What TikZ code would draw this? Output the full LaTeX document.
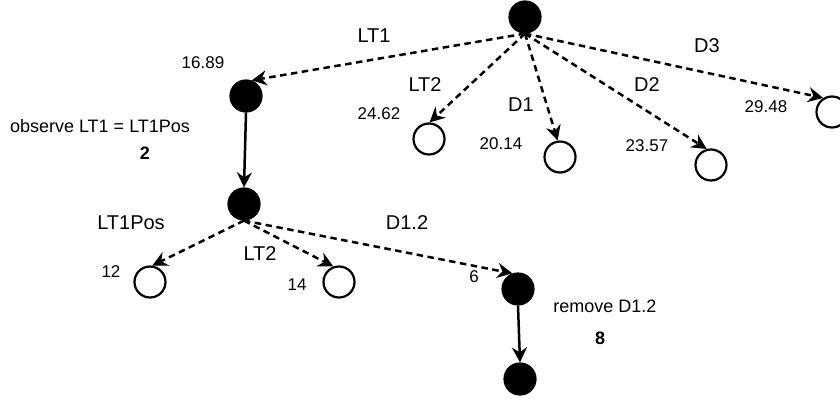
\documentclass[tikz,border=0pt]{standalone}
\usepackage{fontspec}
\setmainfont{Liberation Sans}
\usetikzlibrary{arrows.meta}
\tikzset{
  full/.style={circle, fill=black, draw=black, line width=2.2pt, minimum size=31pt, inner sep=0pt},
  empty/.style={circle, fill=white, draw=black, line width=2.2pt, minimum size=31pt, inner sep=0pt},
  tipstyle/.style={-{Stealth[length=15pt,width=15pt,inset=5pt]}},
  dashedge/.style={line width=2.5pt, dash pattern=on 6.5pt off 4.5pt, tipstyle},
  solidedge/.style={line width=2.5pt, tipstyle},
  elabel/.style={inner sep=0pt, font=\fontsize{20}{22}\selectfont},
  nlabel/.style={inner sep=0pt, font=\fontsize{17}{19}\selectfont},
  alabel/.style={inner sep=0pt, font=\fontsize{18}{20}\selectfont},
}
\begin{document}
\begin{tikzpicture}[x=1pt, y=-1pt]
\useasboundingbox (0,0) rectangle (840,402);
% nodes
\node[full] (root) at (525,17) {};
\node[full] (a) at (246,96) {};
\node[full] (b) at (244,204) {};
\node[empty] (lt2) at (429,139) {};
\node[empty] (d1) at (560,157) {};
\node[empty] (d2) at (711,165) {};
\node[empty] (d3) at (832,112) {};
\node[empty] (c12) at (150,282) {};
\node[empty] (c14) at (339,282) {};
\node[full] (r) at (518,289) {};
\node[full] (bot) at (520,379) {};
% edges
\draw[dashedge] (root.south) -- (a.70);
\draw[dashedge] (root.south) -- (lt2.88);
\draw[dashedge] (root.south) -- (d1.98);
\draw[dashedge] (root.south) -- (d2.105);
\draw[dashedge] (root.south) -- (d3.122);
\draw[solidedge] (a.south) -- (b.north);
\draw[dashedge] (b.south) -- (c12.82);
\draw[dashedge] (b.south) -- (c14.110);
\draw[dashedge] (b.south) -- (r.110);
\draw[solidedge] (r.south) -- (bot.north);
% edge labels
\node[elabel] (llt1) at (374,36) {LT1};
\node[elabel] (llt2) at (425,85) {LT2};
\node[elabel] (ld1) at (521,105) {D1};
\node[elabel] (ld2) at (647,85) {D2};
\node[elabel] (ld3) at (707,46) {D3};
\node[elabel] (llt1pos) at (131,223) {LT1Pos};
\node[elabel] (llt2b) at (260,254) {LT2};
\node[elabel] (ld12) at (407,223) {D1.2};
% numbers
\node[nlabel] (n1) at (203,63) {16.89};
\node[nlabel] (n2) at (379,114) {24.62};
\node[nlabel] (n3) at (501,144) {20.14};
\node[nlabel] (n4) at (647,146) {23.57};
\node[nlabel] (n5) at (766,107) {29.48};
\node[nlabel] (n6) at (111,272) {12};
\node[nlabel] (n7) at (297,285) {14};
\node[nlabel] (n8) at (474,277) {6};
% annotations
\node[alabel] (obs) at (100,126) {observe LT1 = LT1Pos};
\node[alabel] (two) at (145,153) {\bfseries 2};
\node[alabel] (rem) at (605,306) {remove D1.2};
\node[alabel] (eight) at (600,338) {\bfseries 8};
\end{tikzpicture}
\end{document}
